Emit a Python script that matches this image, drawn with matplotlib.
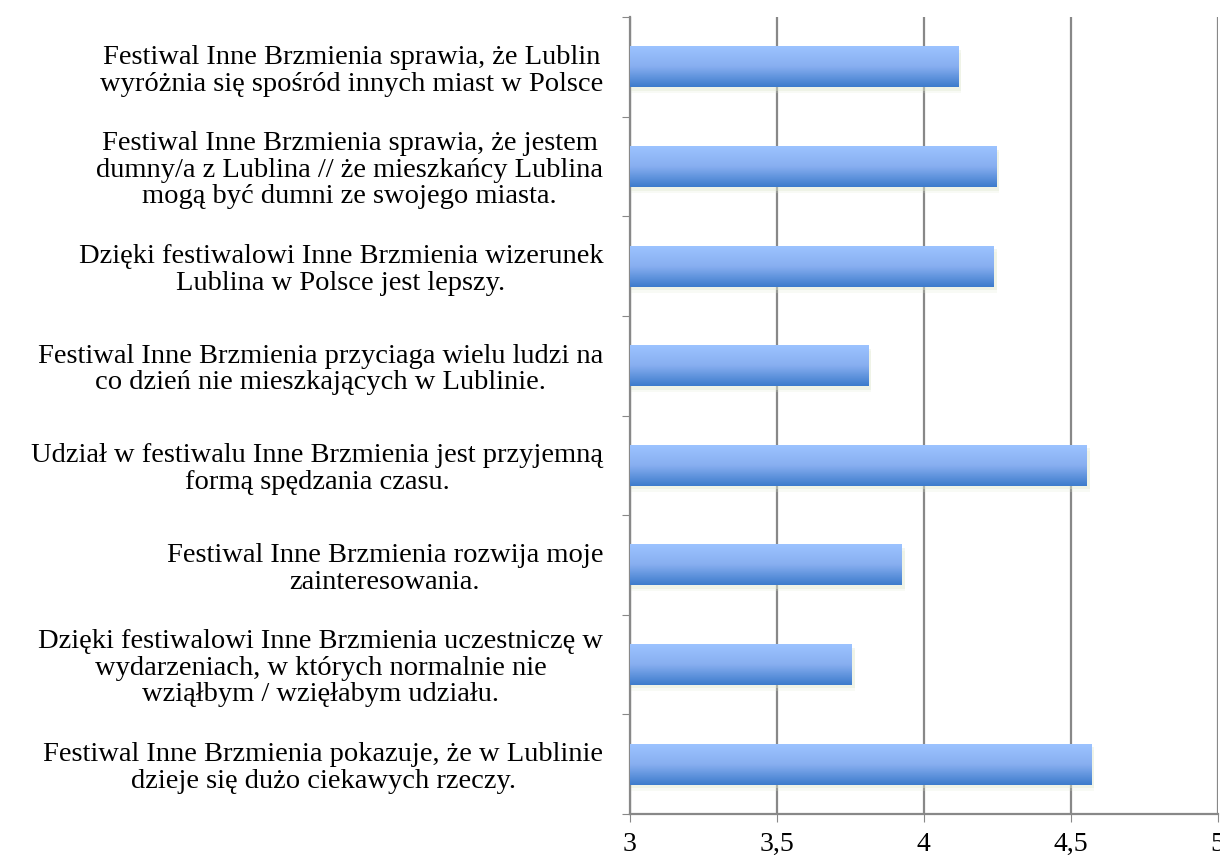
import numpy as np
import matplotlib.pyplot as plt
from matplotlib.colors import LinearSegmentedColormap
from matplotlib.patches import Rectangle

# statements, top to bottom as in the chart
labels = [
    "Festiwal Inne Brzmienia sprawia, że Lublin\nwyróżnia się spośród innych miast w Polsce",
    "Festiwal Inne Brzmienia sprawia, że jestem\ndumny/a z Lublina // że mieszkańcy Lublina\nmogą być dumni ze swojego miasta.",
    "Dzięki festiwalowi Inne Brzmienia wizerunek\nLublina w Polsce jest lepszy.",
    "Festiwal Inne Brzmienia przyciaga wielu ludzi na\nco dzień nie mieszkających w Lublinie.",
    "Udział w festiwalu Inne Brzmienia jest przyjemną\nformą spędzania czasu.",
    "Festiwal Inne Brzmienia rozwija moje\nzainteresowania.",
    "Dzięki festiwalowi Inne Brzmienia uczestniczę w\nwydarzeniach, w których normalnie nie\nwziąłbym / wzięłabym udziału.",
    "Festiwal Inne Brzmienia pokazuje, że w Lublinie\ndzieje się dużo ciekawych rzeczy.",
]
values = [4.116, 4.245, 4.238, 3.81, 4.554, 3.925, 3.755, 4.568]
xticks = [3, 3.5, 4, 4.5, 5]
xticklabels = ["3", "3,5", "4", "4,5", "5"]

plt.rcParams['font.family'] = ['Liberation Serif', 'DejaVu Serif']

fig = plt.figure(figsize=(12.2, 8.6), dpi=100)
ax = fig.add_axes([0.516, 0.0535, 0.482, 0.9265])

n = len(values)
ypos = np.arange(n)[::-1]
h = 0.41
x0 = 3

# gradient: light on top, darker at the bottom
cmap = LinearSegmentedColormap.from_list('bar', ['#9cc3ff', '#87aef0', '#3d7ccc'])
grad = np.linspace(0, 1, 100).reshape(-1, 1)

for y, v in zip(ypos, values):
    # soft shadow
    for k, a in [(0.035, 0.35), (0.06, 0.2)]:
        ax.add_patch(Rectangle((x0, y - h / 2 - k), v - x0 + 0.012, h, color='#dfe8cf',
                               alpha=a, lw=0, zorder=2))
    ax.imshow(grad, extent=[x0, v, y - h / 2, y + h / 2], aspect='auto', cmap=cmap,
              origin='upper', zorder=3, interpolation='bilinear')

ax.set_xlim(3, 5)
ax.set_ylim(-0.5, n - 0.5)

ax.set_xticks(xticks)
ax.set_xticklabels(xticklabels, fontsize=20)
ax.tick_params(axis='x', direction='out', length=6, color='#888888', pad=7)
ax.xaxis.grid(True, color='#888888', linewidth=1.6, zorder=0)
ax.set_axisbelow(True)

ax.set_yticks(np.arange(-0.5, n, 1))
ax.set_yticklabels([])
ax.set_yticks(ypos, minor=True)
ax.set_yticklabels(labels, minor=True, fontsize=20.5, multialignment='center',
                   linespacing=1.08)
ax.tick_params(axis='y', which='major', direction='out', length=6, color='#888888')
ax.tick_params(axis='y', which='minor', length=0, pad=19)

for s in ['top', 'right']:
    ax.spines[s].set_visible(False)
for s in ['left', 'bottom']:
    ax.spines[s].set_color('#888888')
    ax.spines[s].set_linewidth(1.6)

fig.savefig('out.png', dpi=100)
